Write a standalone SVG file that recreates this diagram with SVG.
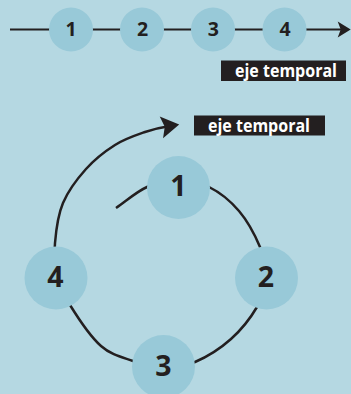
<svg xmlns="http://www.w3.org/2000/svg" width="351" height="394" viewBox="0 0 351 394">
  <defs>
    <style>
      .bg { fill: #b5d8e2; }
      .node { fill: #98c9d8; }
      .line { fill: none; stroke: #231f20; stroke-linecap: butt; }
      .num { font-family: "Open Sans", "Liberation Sans", sans-serif; font-weight: 700; fill: #231f20; text-anchor: middle; }
      .num-s { font-size: 19.5px; }
      .num-l { font-size: 28.5px; }
      .tag-box { fill: #231f20; }
      .tag-text { font-family: "Open Sans", "Liberation Sans", sans-serif; font-weight: 700; font-size: 18px; fill: #ffffff; text-anchor: middle; }
    </style>
    <!-- notched arrowhead, small, for the straight time axis -->
    <marker id="head-s" markerUnits="userSpaceOnUse" viewBox="-6 -9 16 18" markerWidth="16" markerHeight="18" refX="0" refY="0" orient="auto" overflow="visible">
      <path d="M8.7,0 L-4.3,-8 L-1.3,0 L-4.3,8 Z" fill="#231f20"/>
    </marker>
    <!-- notched arrowhead, large, for the circular time axis -->
    <marker id="head-l" markerUnits="userSpaceOnUse" viewBox="-10 -12 21 24" markerWidth="21" markerHeight="24" refX="0" refY="0" orient="auto" overflow="visible">
      <path d="M9.3,0 L-8.7,-11 L-5.3,0 L-8.7,11 Z" fill="#231f20"/>
    </marker>
  </defs>

  <rect class="bg" x="0" y="0" width="351" height="394"/>

  <!-- connectors -->
  <g id="connectors">
    <line class="line" x1="10" y1="29.5" x2="342" y2="29.5" stroke-width="2" marker-end="url(#head-s)"/>
    <path class="line" stroke-width="2.5" marker-end="url(#head-l)"
      d="M116,208
         C126.3,201 136.7,191.5 147,187
         C157.3,182.5 167.7,181 178,181
         C188.3,181 198.8,182 209,187
         C219.2,192 230.5,201 239,211
         C247.5,221 255.3,235.8 260,247
         C264.7,258.2 267.5,268 267,278
         C266.5,288 263,296.8 257,307
         C251,317.2 241.3,329.8 231,339
         C220.7,348.2 206.2,357.2 195,362
         C183.8,366.8 174.3,368.2 164,368
         C153.7,367.8 143.5,364.7 133,361
         C122.5,357.3 111.5,355.3 101,346
         C90.5,336.7 77.3,316.8 70,305
         C62.7,293.2 59.5,285.3 57,275
         C54.5,264.7 54,255 55,243
         C56,231 57.8,215.3 63,203
         C68.2,190.7 77.3,178.7 86,169
         C94.7,159.3 105.2,151.2 115,145
         C124.8,138.8 135.8,135.2 145,132
         C154.2,128.8 161.5,127.3 170,126"/>
  </g>

  <!-- straight sequence -->
  <g id="row-1">
    <circle class="node" cx="71" cy="29.5" r="22"/>
    <text class="num num-s" x="71" y="35.5">1</text>
  </g>
  <g id="row-2">
    <circle class="node" cx="142" cy="29.5" r="22"/>
    <text class="num num-s" x="142.5" y="35.5">2</text>
  </g>
  <g id="row-3">
    <circle class="node" cx="213" cy="29.5" r="22"/>
    <text class="num num-s" x="213.3" y="35.5">3</text>
  </g>
  <g id="row-4">
    <circle class="node" cx="284.5" cy="29.5" r="22"/>
    <text class="num num-s" x="285" y="35.5">4</text>
  </g>

  <!-- circular sequence -->
  <g id="ring-1">
    <circle class="node" cx="178.5" cy="187.5" r="31.5"/>
    <text class="num num-l" x="178.5" y="196">1</text>
  </g>
  <g id="ring-2">
    <circle class="node" cx="266.5" cy="278" r="31.5"/>
    <text class="num num-l" x="266" y="287">2</text>
  </g>
  <g id="ring-3">
    <circle class="node" cx="163.5" cy="366.5" r="31.5"/>
    <text class="num num-l" x="163.3" y="376">3</text>
  </g>
  <g id="ring-4">
    <circle class="node" cx="56" cy="278" r="31.5"/>
    <text class="num num-l" x="55.5" y="287">4</text>
  </g>

  <!-- axis labels -->
  <g id="label-linear">
    <rect class="tag-box" x="221" y="60.5" width="125" height="20.5"/>
    <text class="tag-text" x="286" y="77.3" textLength="102" lengthAdjust="spacingAndGlyphs">eje temporal</text>
  </g>
  <g id="label-circular">
    <rect class="tag-box" x="194" y="115.5" width="131" height="20"/>
    <text class="tag-text" x="259" y="132" textLength="102" lengthAdjust="spacingAndGlyphs">eje temporal</text>
  </g>
</svg>
